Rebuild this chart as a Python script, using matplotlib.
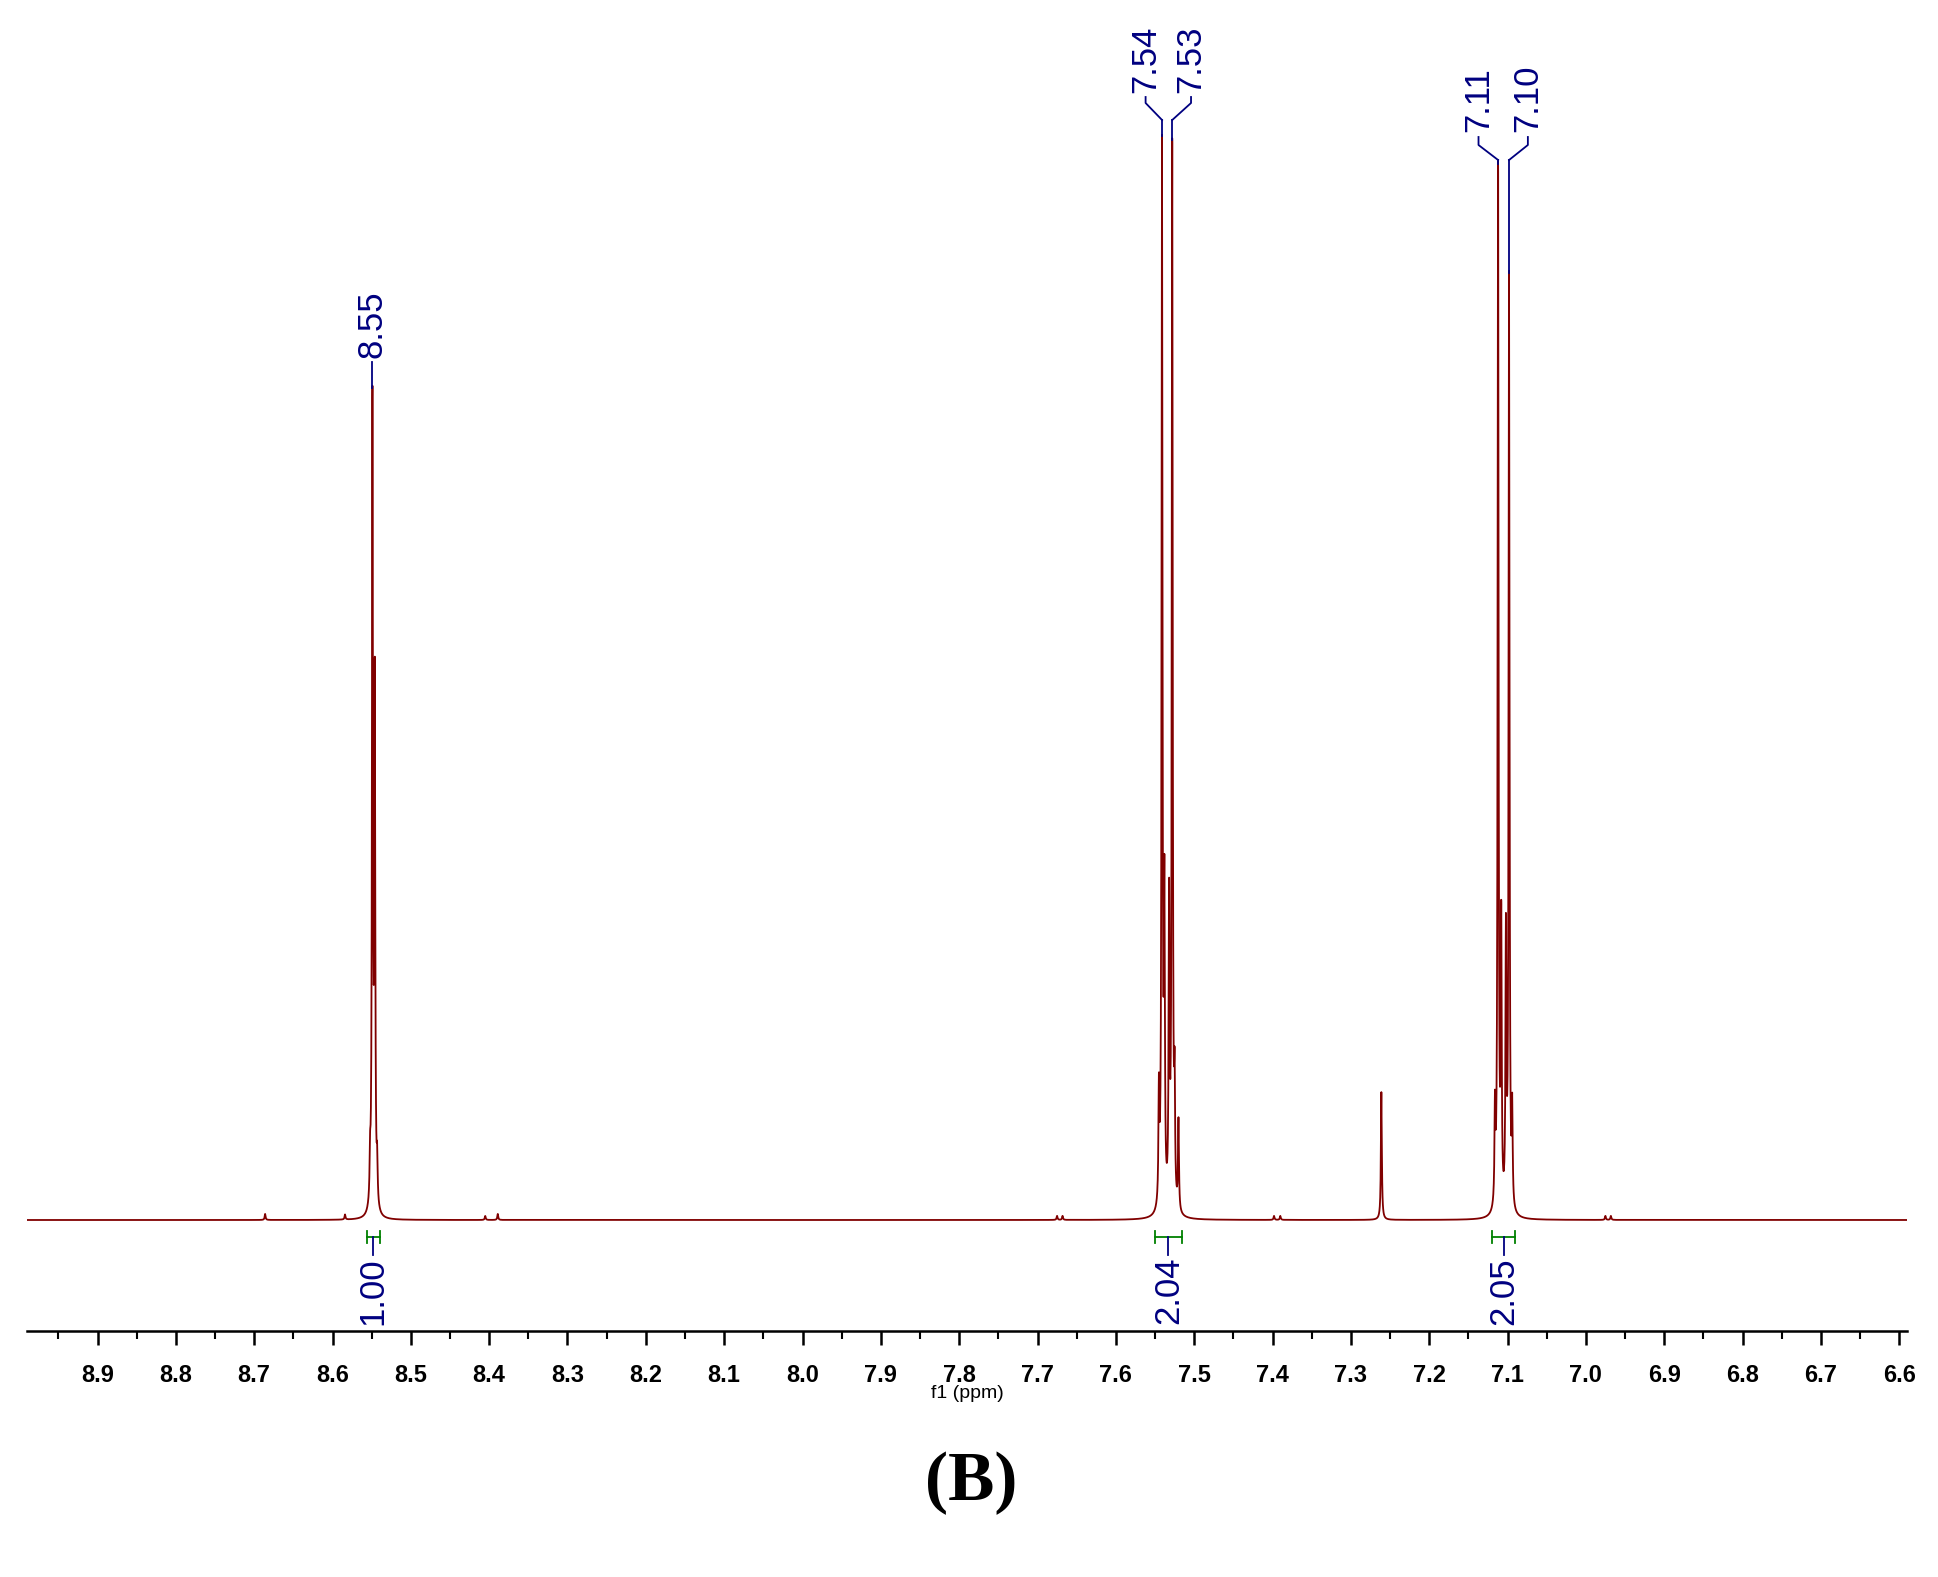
import numpy as np
import matplotlib
matplotlib.use("Agg")
import matplotlib.pyplot as plt
from matplotlib.ticker import MultipleLocator

# peak list: position (ppm), height (arbitrary units ~ pixels)
peak_pos = [8.686, 8.584, 8.552, 8.549, 8.546, 8.543, 8.405, 8.389,
            7.675, 7.668, 7.545, 7.541, 7.538, 7.532, 7.528, 7.525, 7.520,
            7.398, 7.390, 7.261,
            7.116, 7.112, 7.108, 7.102, 7.098, 7.094, 6.975, 6.968]
peak_h = [6, 5, 40, 805, 520, 40, 4, 6,
          4, 4, 110, 1065, 300, 300, 1065, 110, 90,
          4, 4, 128,
          95, 1045, 280, 270, 935, 95, 4, 4]
peak_w = 0.0007

ppm = np.linspace(6.59, 8.99, 24000)
spec = np.zeros_like(ppm)
for p, h in zip(peak_pos, peak_h):
    spec += h / (1 + ((ppm - p) / peak_w) ** 2)

peak_labels = ["8.55", "7.54", "7.53", "7.11", "7.10"]
label_ppm = [8.549, 7.541, 7.528, 7.112, 7.098]
label_text_ppm = [8.549, 7.562, 7.504, 7.137, 7.074]

integ_ranges = [(8.556, 8.540), (7.550, 7.516), (7.120, 7.090)]
integ_vals = ["1.00", "2.04", "2.05"]

W, H = 1938, 1577
fig = plt.figure(figsize=(W / 100, H / 100), dpi=100)
axis_pix = 1331
ax = fig.add_axes([27 / W, 1 - axis_pix / H, 1880 / W, axis_pix / H])
ax.set_xlim(8.99, 6.59)
ax.set_ylim(0, axis_pix)
base = axis_pix - 1220
ax.plot(ppm, spec + base, color="#800000", lw=1.3)

for s in ["top", "left", "right"]:
    ax.spines[s].set_visible(False)
ax.spines["bottom"].set_linewidth(1.8)
ax.set_yticks([])
ax.xaxis.set_minor_locator(MultipleLocator(0.05))
ax.tick_params(axis="x", which="major", direction="out", length=10, width=1.8,
               labelsize=17, pad=14)
ax.tick_params(axis="x", which="minor", direction="out", length=6, width=1.5)
ticks = np.round(np.arange(6.6, 8.95, 0.1), 1)
ax.set_xticks(ticks)
ax.set_xticklabels([f"{t:.1f}" for t in ticks], family="Liberation Sans",
                   fontweight="bold")
ax.set_xlabel("f1 (ppm)", family="Liberation Sans", fontsize=14, labelpad=-2)

navy = "#000080"
def Y(pix):
    return axis_pix - pix

for lab, p, tp in zip(peak_labels, label_ppm, label_text_ppm):
    top = base + np.interp(p, ppm, spec)
    if lab == "8.55":
        ax.plot([p, p], [top, Y(362)], color=navy, lw=1.3)
        ax.text(p, Y(358), lab, rotation=90, ha="center", va="bottom",
                fontsize=25, color=navy, family="Liberation Sans")
    else:
        if lab in ("7.54", "7.53"):
            y1, y2, y3 = 120, 103, 97
            ytxt = 93
        else:
            y1, y2, y3 = 160, 145, 137
            ytxt = 132
        ax.plot([p, p], [top, Y(y1)], color=navy, lw=1.3)
        ax.plot([p, tp, tp], [Y(y1), Y(y2), Y(y3)], color=navy, lw=1.3)
        ax.text(tp, Y(ytxt), lab, rotation=90, ha="center", va="bottom",
                fontsize=25, color=navy, family="Liberation Sans")

green = "#008000"
for (a, b), v in zip(integ_ranges, integ_vals):
    yb = Y(1237)
    ax.plot([a, b], [yb, yb], color=green, lw=1.3)
    ax.plot([a, a], [yb - 6, yb + 6], color=green, lw=1.3)
    ax.plot([b, b], [yb - 6, yb + 6], color=green, lw=1.3)
    c = (a + b) / 2
    ax.plot([c, c], [yb, Y(1255)], color=navy, lw=1.3)
    ax.text(c, Y(1257), v, rotation=90, ha="center", va="top",
            fontsize=25, color=navy, family="Liberation Sans")

fig.text(971 / W, 1 - 1483 / H, "(B)", ha="center", va="center",
         fontsize=50, fontweight="bold", family="Liberation Serif")

fig.savefig("out.png", dpi=100)
